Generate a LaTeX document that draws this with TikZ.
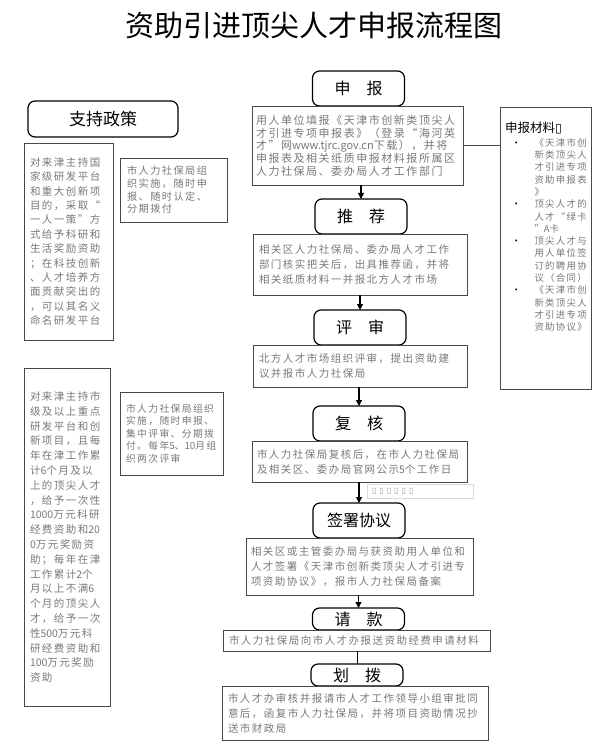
\documentclass[tikz,border=0pt]{standalone}
\usepackage{fontspec}
\setmainfont{Noto Sans CJK SC}
\newfontfamily\flowbody[LetterSpace=14]{Noto Sans CJK SC}
\newfontfamily\flowsym{DejaVu Sans}
\usetikzlibrary{arrows.meta}
\definecolor{flowText}{HTML}{787878}
\definecolor{flowLine}{HTML}{484848}
\definecolor{flowFaint}{HTML}{D8D8D8}
\tikzset{
  flow chart/.style={
    x=1pt, y=-1pt, line width=1pt,
    >={Triangle[length=6pt,width=6pt]},
    every node/.style={inner sep=0pt, outer sep=0pt}
  },
  flow head/.style={draw=black, line width=1.2pt, rounded corners=7pt,
    minimum width=92pt, minimum height=35pt,
    font=\fontsize{16}{18}\selectfont},
  flow text/.style={draw=flowLine, line width=0.9pt, anchor=north west,
    align=left, text=flowText, font=\flowbody\fontsize{10.5}{15}\selectfont},
  flow arrow/.style={draw=black, line width=1.1pt, ->},
  flow link/.style={draw=flowLine, line width=1pt}
}
\newcommand{\MatBullet}{\makebox[31pt][l]{\hspace{8pt}\textcolor{black}{\textbullet}}}
\newcommand{\MatIndent}{\hspace*{31pt}}

\begin{document}
\begin{tikzpicture}[flow chart]
  \useasboundingbox (0,0) rectangle (600,751);
  \node (title) at (314,25) {\fontsize{29}{32}\selectfont 资助引进顶尖人才申报流程图};

  % main column
  \node[flow head] (sbhead) at (358.5,88.5) {申\hspace{1em}报};
  \node[flow text, minimum width=211pt, minimum height=79pt, text width=203pt,
    font=\flowbody\fontsize{11}{12.7}\selectfont] (sbtext) at (252,106)
    {用人单位填报《天津市创新类顶尖人\\
     才引进专项申报表》（登录“海河英\\
     才”网{\rmfamily www.tjrc.gov.cn}下载），并将\\
     申报表及相关纸质申报材料报所属区\\
     人力社保局、委办局人才工作部门};
  \node[flow head] (tjhead) at (361,216.5) {推\hspace{1em}荐};
  \node[flow text, minimum width=214pt, minimum height=61pt, text width=202pt] (tjtext) at (253,234)
    {相关区人力社保局、委办局人才工作\\
     部门核实把关后，出具推荐函，并将\\
     相关纸质材料一并报北方人才市场};
  \node[flow head] (pshead) at (360,327.5) {评\hspace{1em}审};
  \node[flow text, minimum width=214pt, minimum height=42pt, text width=202pt] (pstext) at (253,345)
    {北方人才市场组织评审，提出资助建\\
     议并报市人力社保局};
  \node[flow head] (fhhead) at (359,423.5) {复\hspace{1em}核};
  \node[flow text, minimum width=215pt, minimum height=41pt, text width=205pt] (fhtext) at (252,441)
    {市人力社保局复核后，在市人力社保局\\
     及相关区、委办局官网公示{\rmfamily 5}个工作日};
  \node[flow text, draw=flowFaint, minimum width=106pt, minimum height=14pt, text width=96pt,
    text=flowText!80, font=\flowsym\fontsize{8}{9}\selectfont] (memo) at (367,484)
    {▯\hspace{3pt}▯\hspace{3pt}▯\hspace{3pt}▯\hspace{3pt}▯\hspace{3pt}▯};
  \node[flow head] (qshead) at (359,520.5) {签署协议};
  \node[flow text, minimum width=227pt, minimum height=57pt, text width=217pt] (qstext) at (246,538)
    {相关区或主管委办局与获资助用人单位和\\
     人才签署《天津市创新类顶尖人才引进专\\
     项资助协议》，报市人力社保局备案};
  \node[flow head, minimum height=22pt] (qkhead) at (358.5,619) {请\hspace{1em}款};
  \node[flow text, minimum width=267pt, minimum height=21pt, text width=255pt] (qktext) at (223,630)
    {市人力社保局向市人才办报送资助经费申请材料};
  \node[flow head, minimum height=22pt] (hbhead) at (357,675) {划\hspace{1em}拨};
  \node[flow text, minimum width=266pt, minimum height=54pt, text width=254pt] (hbtext) at (222,686)
    {市人才办审核并报请市人才工作领导小组审批同\\
     意后，函复市人力社保局，并将项目资助情况抄\\
     送市财政局};

  \draw[flow arrow] (tjhead.north |- sbtext.south) -- (tjhead.north);
  \draw[flow arrow] (pshead.north |- tjtext.south) -- (pshead.north);
  \draw[flow arrow] (fhhead.north |- pstext.south) -- (fhhead.north);
  \draw[flow arrow] (qshead.north |- fhtext.south) -- (qshead.north);
  \draw[flow arrow] (qkhead.north |- qstext.south) -- (qkhead.north);
  \draw[flow link, draw=black] (hbhead.north |- qktext.south) -- (hbhead.north);

  % materials list
  \node[flow text, minimum width=91pt, minimum height=282pt, text width=84pt,
    font=\flowbody\fontsize{9.4}{12.3}\selectfont] (matl) at (500,107)
    {\hspace*{1.5pt}{\color{black}\rmfamily\fontsize{12.5}{15}\selectfont 申报材料{\flowsym ▯}}\\[1pt]
     \MatBullet《天津市创\\ \MatIndent 新类顶尖人\\ \MatIndent 才引进专项\\
     \MatIndent 资助申报表\\ \MatIndent 》\\
     \MatBullet 顶尖人才的\\ \MatIndent 人才“绿卡\\ \MatIndent ”{\rmfamily A}卡\\
     \MatBullet 顶尖人才与\\ \MatIndent 用人单位签\\ \MatIndent 订的聘用协\\
     \MatIndent 议（合同）\\
     \MatBullet《天津市创\\ \MatIndent 新类顶尖人\\ \MatIndent 才引进专项\\
     \MatIndent 资助协议》\par\vspace{42pt}};
  \draw[flow link] (sbtext.east) -- (sbtext.east -| matl.west);

  % support policy
  \node[flow head, minimum width=150pt, minimum height=36pt,
    font=\fontsize{17}{19}\selectfont] (policy) at (103,119) {支持政策};
  \node[flow text, minimum width=89pt, minimum height=197pt, text width=77pt,
    font=\flowbody\fontsize{10.5}{14.4}\selectfont] (natl) at (24,143)
    {对来津主持国\\家级研发平台\\和重大创新项\\目的，采取“\\一人一策”方\\
     式给予科研和\\生活奖励资助\\；在科技创新\\、人才培养方\\面贡献突出的\\
     ，可以其名义\\命名研发平台};
  \node[flow text, minimum width=107pt, minimum height=64pt, text width=93pt,
    font=\flowbody\fontsize{10.2}{12.6}\selectfont] (natlnote) at (120,158)
    {市人力社保局组\\织实施，随时申\\报、随时认定、\\分期拨付};
  \node[flow text, minimum width=86pt, minimum height=338pt, text width=74pt,
    font=\flowbody\fontsize{10.5}{14.8}\selectfont] (city) at (24,368)
    {对来津主持市\\级及以上重点\\研发平台和创\\新项目，且每\\年在津工作累\\
     计{\rmfamily 6}个月及以\\上的顶尖人才\\，给予一次性\\{\rmfamily 1000}万元科研\\经费资助和{\rmfamily 20}\\
     {\rmfamily 0}万元奖励资\\助；每年在津\\工作累计{\rmfamily 2}个\\月以上不满{\rmfamily 6}\\个月的顶尖人\\
     才，给予一次\\性{\rmfamily 500}万元科\\研经费资助和\\{\rmfamily 100}万元奖励\\资助};
  \node[flow text, minimum width=103pt, minimum height=83pt, text width=91pt,
    font=\flowbody\fontsize{9.8}{12.4}\selectfont] (citynote) at (120,392)
    {市人力社保局组织\\实施，随时申报、\\集中评审、分期拨\\付。每年{\rmfamily 5}、{\rmfamily 10}月组\\织两次评审};
\end{tikzpicture}
\end{document}
